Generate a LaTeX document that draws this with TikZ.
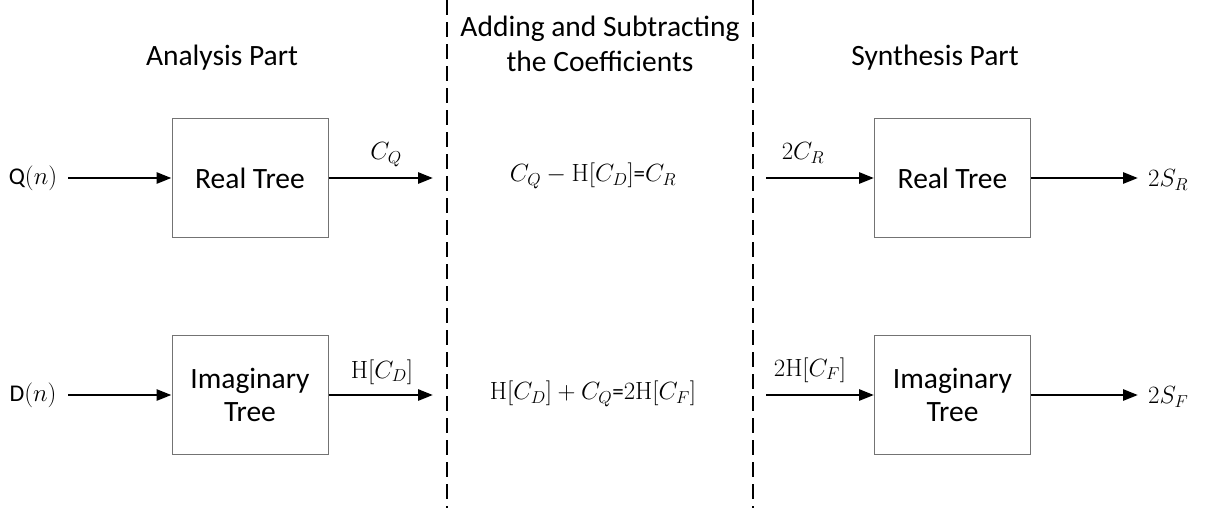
\documentclass[tikz,border=0pt]{standalone}
\usepackage[no-math]{fontspec}
\setmainfont{Carlito}
\usetikzlibrary{arrows.meta}
\begin{document}
\begin{tikzpicture}[x=1pt,y=-1pt,
  blockbox/.style={draw=black!55, line width=1pt, minimum width=156pt, minimum height=119pt, inner sep=0pt, align=center, font=\fontsize{29.5}{33}\selectfont},
  sig/.style={line width=2.7pt, -{Triangle[length=15pt,width=11pt]}},
  divider/.style={line width=2.5pt, dash pattern=on 15pt off 7pt},
  lbl/.style={inner sep=0pt, font=\fontsize{23}{27}\selectfont},
  inlbl/.style={inner sep=0pt, font=\fontsize{24}{28}\selectfont},
  titletext/.style={inner sep=0pt, align=center, font=\fontsize{29.5}{35}\selectfont}]
\useasboundingbox (0,0) rectangle (1214,512);
% titles
\node[titletext] (ta) at (222,58) {Analysis Part};
\node[titletext] (tb) at (600,44) {Adding and Subtracting\\the Coefficients};
\node[titletext] (tc) at (935,58) {Synthesis Part};
% dividers
\coordinate (d1t) at (447,0);
\coordinate (d1b) at (447,508);
\coordinate (d2t) at (753,0);
\coordinate (d2b) at (753,508);
\draw[divider] (d1t) -- (d1b);
\draw[divider] (d2t) -- (d2b);
% blocks
\node[blockbox] (rt1) at (250,178) {Real Tree};
\node[blockbox] (it1) at (250,395) {Imaginary\\Tree};
\node[blockbox] (rt2) at (952.5,178) {Real Tree};
\node[blockbox] (it2) at (952.5,395) {Imaginary\\Tree};
% analysis inputs
\node[inlbl] (q) at (33,178) {Q$(n)$};
\node[inlbl] (d) at (33,395) {D$(n)$};
\coordinate (qs) at (68,178);
\coordinate (ds) at (68,395);
\draw[sig] (qs) -- (rt1.west);
\draw[sig] (ds) -- (it1.west);
% analysis outputs
\coordinate (cq) at (433,178);
\coordinate (hcd) at (433,395);
\draw[sig] (rt1.east) -- (cq);
\draw[sig] (it1.east) -- (hcd);
\node[lbl] (lcq) at (386,155) {$C_Q$};
\node[lbl] (lhcd) at (382,372) {$\mathrm{H}[C_D]$};
% equations
\node[lbl] (e1) at (593,176) {$C_Q - \mathrm{H}[C_D]$=$C_R$};
\node[lbl] (e2) at (593,394) {$\mathrm{H}[C_D] + C_Q$=$2\mathrm{H}[C_F]$};
% synthesis inputs
\coordinate (s1) at (766,178);
\coordinate (s2) at (766,395);
\draw[sig] (s1) -- (rt2.west);
\draw[sig] (s2) -- (it2.west);
\node[lbl] (l2cr) at (803,153) {$2C_R$};
\node[lbl] (l2hcf) at (810,370) {$2\mathrm{H}[C_F]$};
% synthesis outputs
\coordinate (o1) at (1138,178);
\coordinate (o2) at (1138,395);
\draw[sig] (rt2.east) -- (o1);
\draw[sig] (it2.east) -- (o2);
\node[lbl, anchor=west] (l2sr) at (1148,180) {$2S_R$};
\node[lbl, anchor=west] (l2sf) at (1148,397) {$2S_F$};
\end{tikzpicture}
\end{document}
